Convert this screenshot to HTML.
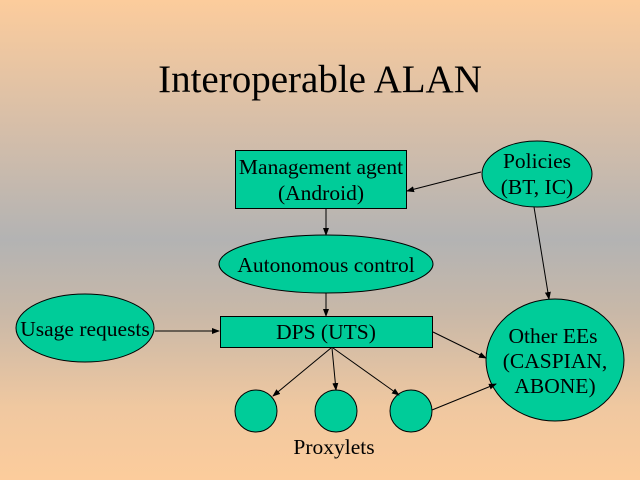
<!DOCTYPE html>
<html><head><style>
body{margin:0;width:640px;height:480px;overflow:hidden;background:linear-gradient(to bottom,#fccc9c 0%,#d8bfa8 25%,#b3b3b3 50%,#c8b8a8 65%,#f0c8a0 85%,#fccc9c 100%);}
svg{display:block}
text{font-family:"Liberation Serif",serif;fill:#000}
</style></head><body>
<svg width="640" height="480" xmlns="http://www.w3.org/2000/svg">
<defs><marker id="a" markerWidth="8" markerHeight="8" refX="7" refY="4" orient="auto" markerUnits="userSpaceOnUse"><path d="M0,1 L8,4 L0,7 z" fill="#000"/></marker></defs>
<text x="320" y="92" font-size="39" text-anchor="middle">Interoperable ALAN</text>
<g fill="#00cc99" stroke="#000" stroke-width="1">
<rect x="235.5" y="150.5" width="171" height="58"/>
<ellipse cx="537" cy="174" rx="55" ry="33"/>
<ellipse cx="326" cy="264" rx="107" ry="29"/>
<rect x="220.5" y="316.5" width="212" height="31"/>
<ellipse cx="85" cy="328" rx="69" ry="34"/>
<ellipse cx="555" cy="360" rx="69" ry="61"/>
<ellipse cx="256" cy="411" rx="21" ry="21"/>
<ellipse cx="336" cy="411" rx="21" ry="21"/>
<ellipse cx="411" cy="411" rx="21" ry="21"/>
</g>
<g stroke="#000" stroke-width="1" marker-end="url(#a)">
<line x1="481" y1="172" x2="407" y2="191"/>
<line x1="326" y1="208" x2="326" y2="235"/>
<line x1="326" y1="293" x2="326" y2="316"/>
<line x1="534" y1="207" x2="549" y2="299"/>
<line x1="155" y1="331" x2="219" y2="331"/>
<line x1="433" y1="332" x2="486" y2="358"/>
<line x1="331" y1="348" x2="273" y2="396"/>
<line x1="332" y1="348" x2="336" y2="390"/>
<line x1="333" y1="348" x2="399" y2="395"/>
<line x1="432" y1="410" x2="496" y2="384"/>
</g>
<g font-size="21.5" text-anchor="middle">
<text x="321" y="174">Management agent</text>
<text x="321" y="200">(Android)</text>
<text x="537" y="168">Policies</text>
<text x="537" y="194">(BT, IC)</text>
<text x="326" y="272">Autonomous control</text>
<text x="326" y="339">DPS (UTS)</text>
<text x="85" y="336">Usage requests</text>
<text x="553" y="343">Other EEs</text>
<text x="555" y="368">(CASPIAN,</text>
<text x="555" y="393">ABONE)</text>
<text x="334" y="454">Proxylets</text>
</g>
</svg>
</body></html>
